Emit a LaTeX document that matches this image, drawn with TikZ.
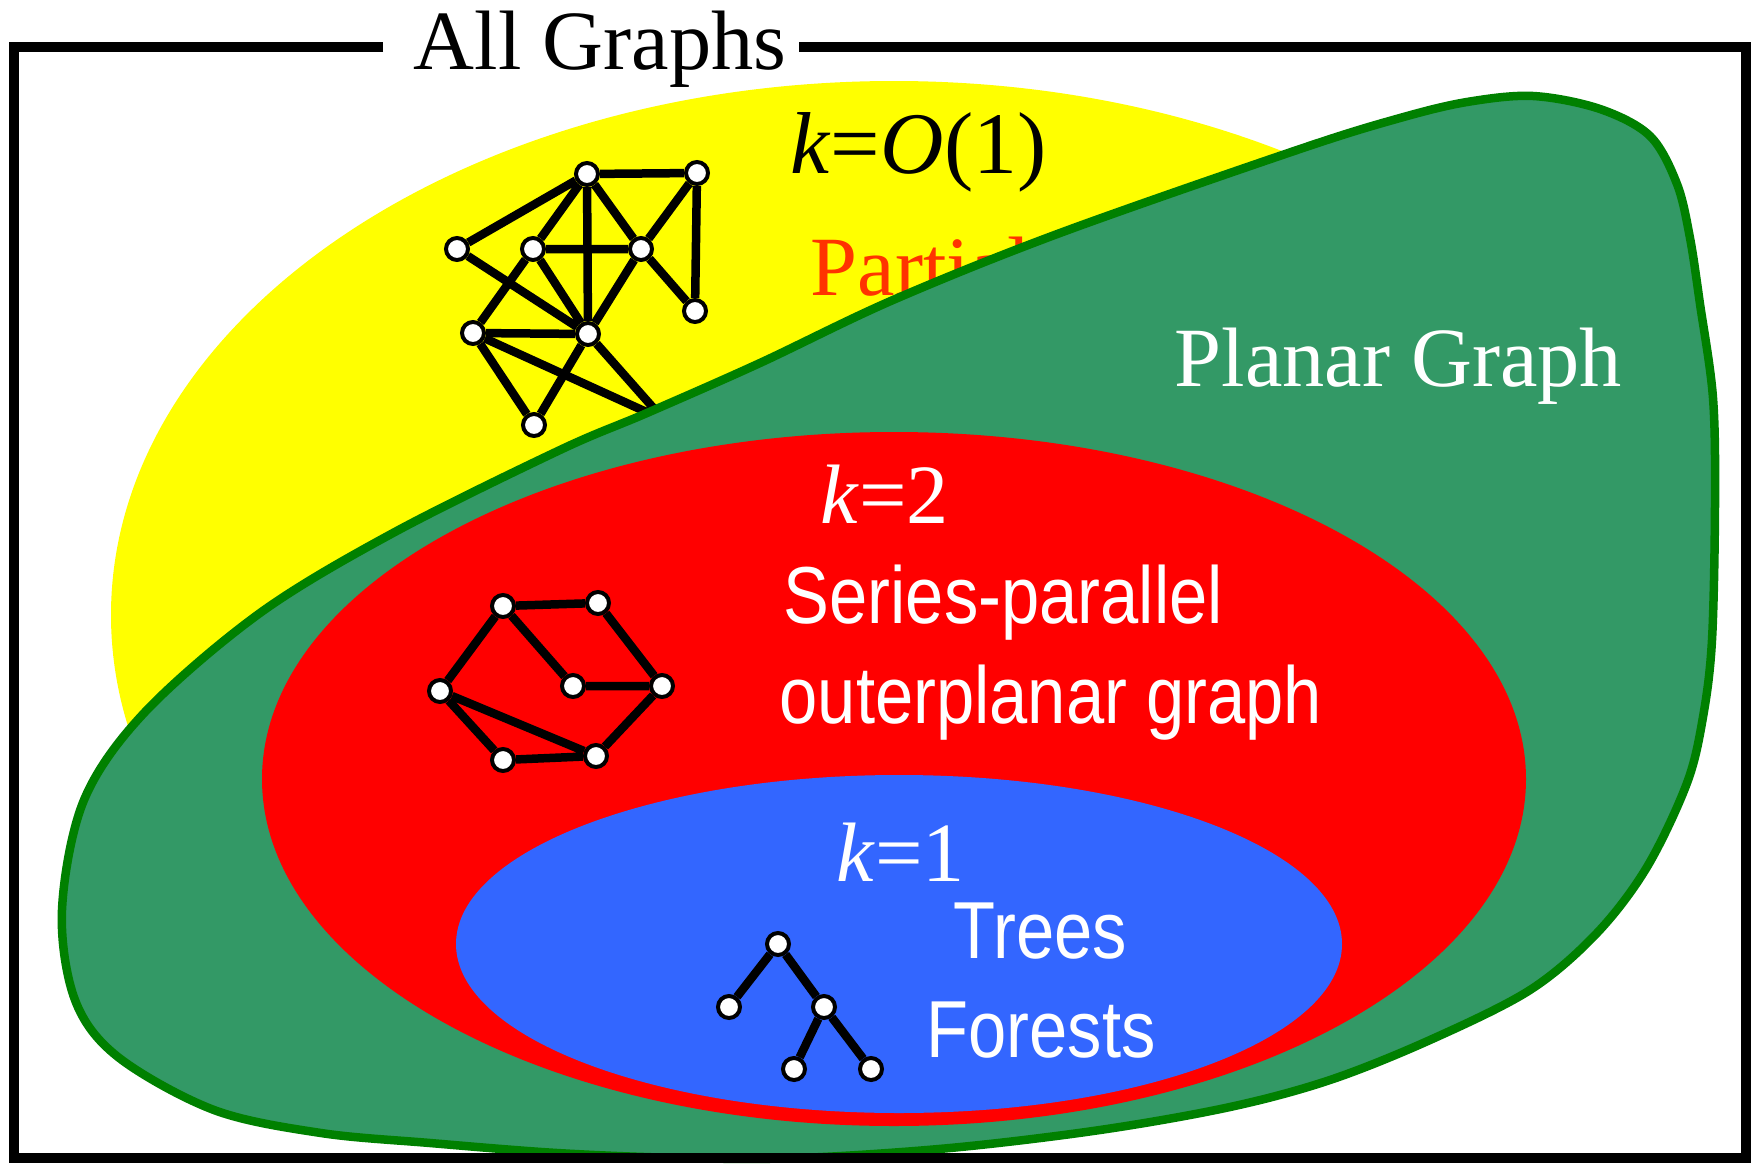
\documentclass[tikz,border=0pt]{standalone}
\usepackage{fontspec}
\setmainfont{Liberation Serif}
\newfontfamily\narrowsans{Liberation Sans}[FakeStretch=0.85]
\usepackage{tikz}

\definecolor{allyellow}{HTML}{FFFF00}
\definecolor{planarfill}{HTML}{339966}
\definecolor{planarline}{HTML}{008000}
\definecolor{spred}{HTML}{FF0000}
\definecolor{treeblue}{HTML}{3366FF}
\definecolor{partialred}{HTML}{FF3300}

\begin{document}
\begin{tikzpicture}[
    x=0.1mm, y=-0.1mm,
    vtx/.style={circle, draw=black, fill=white, line width=0.4mm, minimum size=2.2mm, inner sep=0pt},
    link/.style={line width=0.85mm},
    frame/.style={line width=1mm},
    serif/.style={font=\fontsize{24}{28}\selectfont, inner sep=0pt, anchor=base west},
    narrow/.style={font=\narrowsans\fontsize{23}{27}\selectfont, text=white, inner sep=0pt, anchor=base west}
]
\useasboundingbox (0,0) rectangle (1753,1165);

% --- Partial k-trees (yellow) ---
\fill[allyellow] (894,615) ellipse [x radius=783, y radius=534];
\node[serif, font=\fontsize{25}{29}\selectfont] (kany) at (790,173) {\textit{k}=\textit{O}(1)};
\node[serif, text=partialred] (partial) at (810,295) {Partial};

% graph with bounded treewidth
\node[vtx] (a) at (587,174) {};
\node[vtx] (b) at (697,173) {};
\node[vtx] (c) at (457,249) {};
\node[vtx] (d) at (533,249) {};
\node[vtx] (e) at (641,249) {};
\node[vtx] (f) at (695,311) {};
\node[vtx] (g) at (473,333) {};
\node[vtx] (h) at (588,334) {};
\node[vtx] (i) at (534,425) {};
\coordinate (z) at (664,420);

\draw[link] (a) -- (b) (a) -- (c) (a) -- (d) (a) -- (e) (a) -- (h);
\draw[link] (b) -- (e) (b) -- (f) (e) -- (f);
\draw[link] (c) -- (h) (d) -- (e) (d) -- (h) (d) -- (g) (e) -- (h);
\draw[link] (g) -- (h) (g) -- (i) (h) -- (i);
\draw[link] (g) -- (z) (h) -- (z);

% --- Planar graphs (green) ---
\filldraw[fill=planarfill, draw=planarline, line width=0.85mm]
  plot[smooth cycle, tension=0.55] coordinates {
    (1533,96) (1600,109) (1650,136) (1677,184) (1690,238) (1700,304)
    (1713,398) (1715,504) (1712,640) (1703,717) (1687,783) (1647,867)
    (1597,933) (1530,990) (1430,1040) (1330,1080) (1230,1107) (1100,1130)
    (950,1148) (800,1158) (680,1158) (557,1153) (430,1143) (321,1133)
    (214,1110) (118,1057) (75,1000) (62,910) (84,800) (145,712)
    (260,613) (393,533) (560,450) (647,413) (760,363) (893,300)
    (1060,233) (1300,149) (1400,118) (1467,102)};
\node[serif, text=white] (planar) at (1174,386) {Planar Graph};

% --- Series-parallel / outerplanar (red) ---
\fill[spred] (894,779) ellipse [x radius=632, y radius=347];
\node[serif, text=white] (ktwo) at (820,523) {\textit{k}=2};
\node[narrow] (sp) at (783,623) {Series-parallel};
\node[narrow] (outer) at (779,723) {outerplanar graph};

\node[vtx] (p1) at (503,606) {};
\node[vtx] (p2) at (598,603) {};
\node[vtx] (p3) at (440,691) {};
\node[vtx] (p4) at (573,686) {};
\node[vtx] (p5) at (662,686) {};
\node[vtx] (p6) at (503,760) {};
\node[vtx] (p7) at (596,756) {};

\draw[link] (p1) -- (p2) (p1) -- (p3) (p1) -- (p4) (p2) -- (p5) (p4) -- (p5);
\draw[link] (p3) -- (p6) (p3) -- (p7) (p6) -- (p7) (p7) -- (p5);

% --- Trees / forests (blue) ---
\fill[treeblue] (899,944) ellipse [x radius=443, y radius=169];
\node[serif, text=white] (kone) at (836,881) {\textit{k}=1};
\node[narrow] (trees) at (953,958) {Trees};
\node[narrow] (forests) at (926,1057) {Forests};

\node[vtx] (t1) at (778,944) {};
\node[vtx] (t2) at (729,1007) {};
\node[vtx] (t3) at (824,1007) {};
\node[vtx] (t4) at (794,1069) {};
\node[vtx] (t5) at (871,1069) {};

\draw[link] (t1) -- (t2) (t1) -- (t3) (t3) -- (t4) (t3) -- (t5);

% --- Outer frame ---
\node[serif, anchor=base] (title) at (600,69) {All Graphs};
\coordinate (tl) at (14,47);
\coordinate (tr) at (1746,47);
\coordinate (bl) at (14,1158);
\coordinate (br) at (1746,1158);
\draw[frame] ([xshift=-3mm]title.west |- tl) -- (tl) -- (bl) -- (br) -- (tr) -- ([xshift=1.2mm]title.east |- tr);

\end{tikzpicture}
\end{document}
